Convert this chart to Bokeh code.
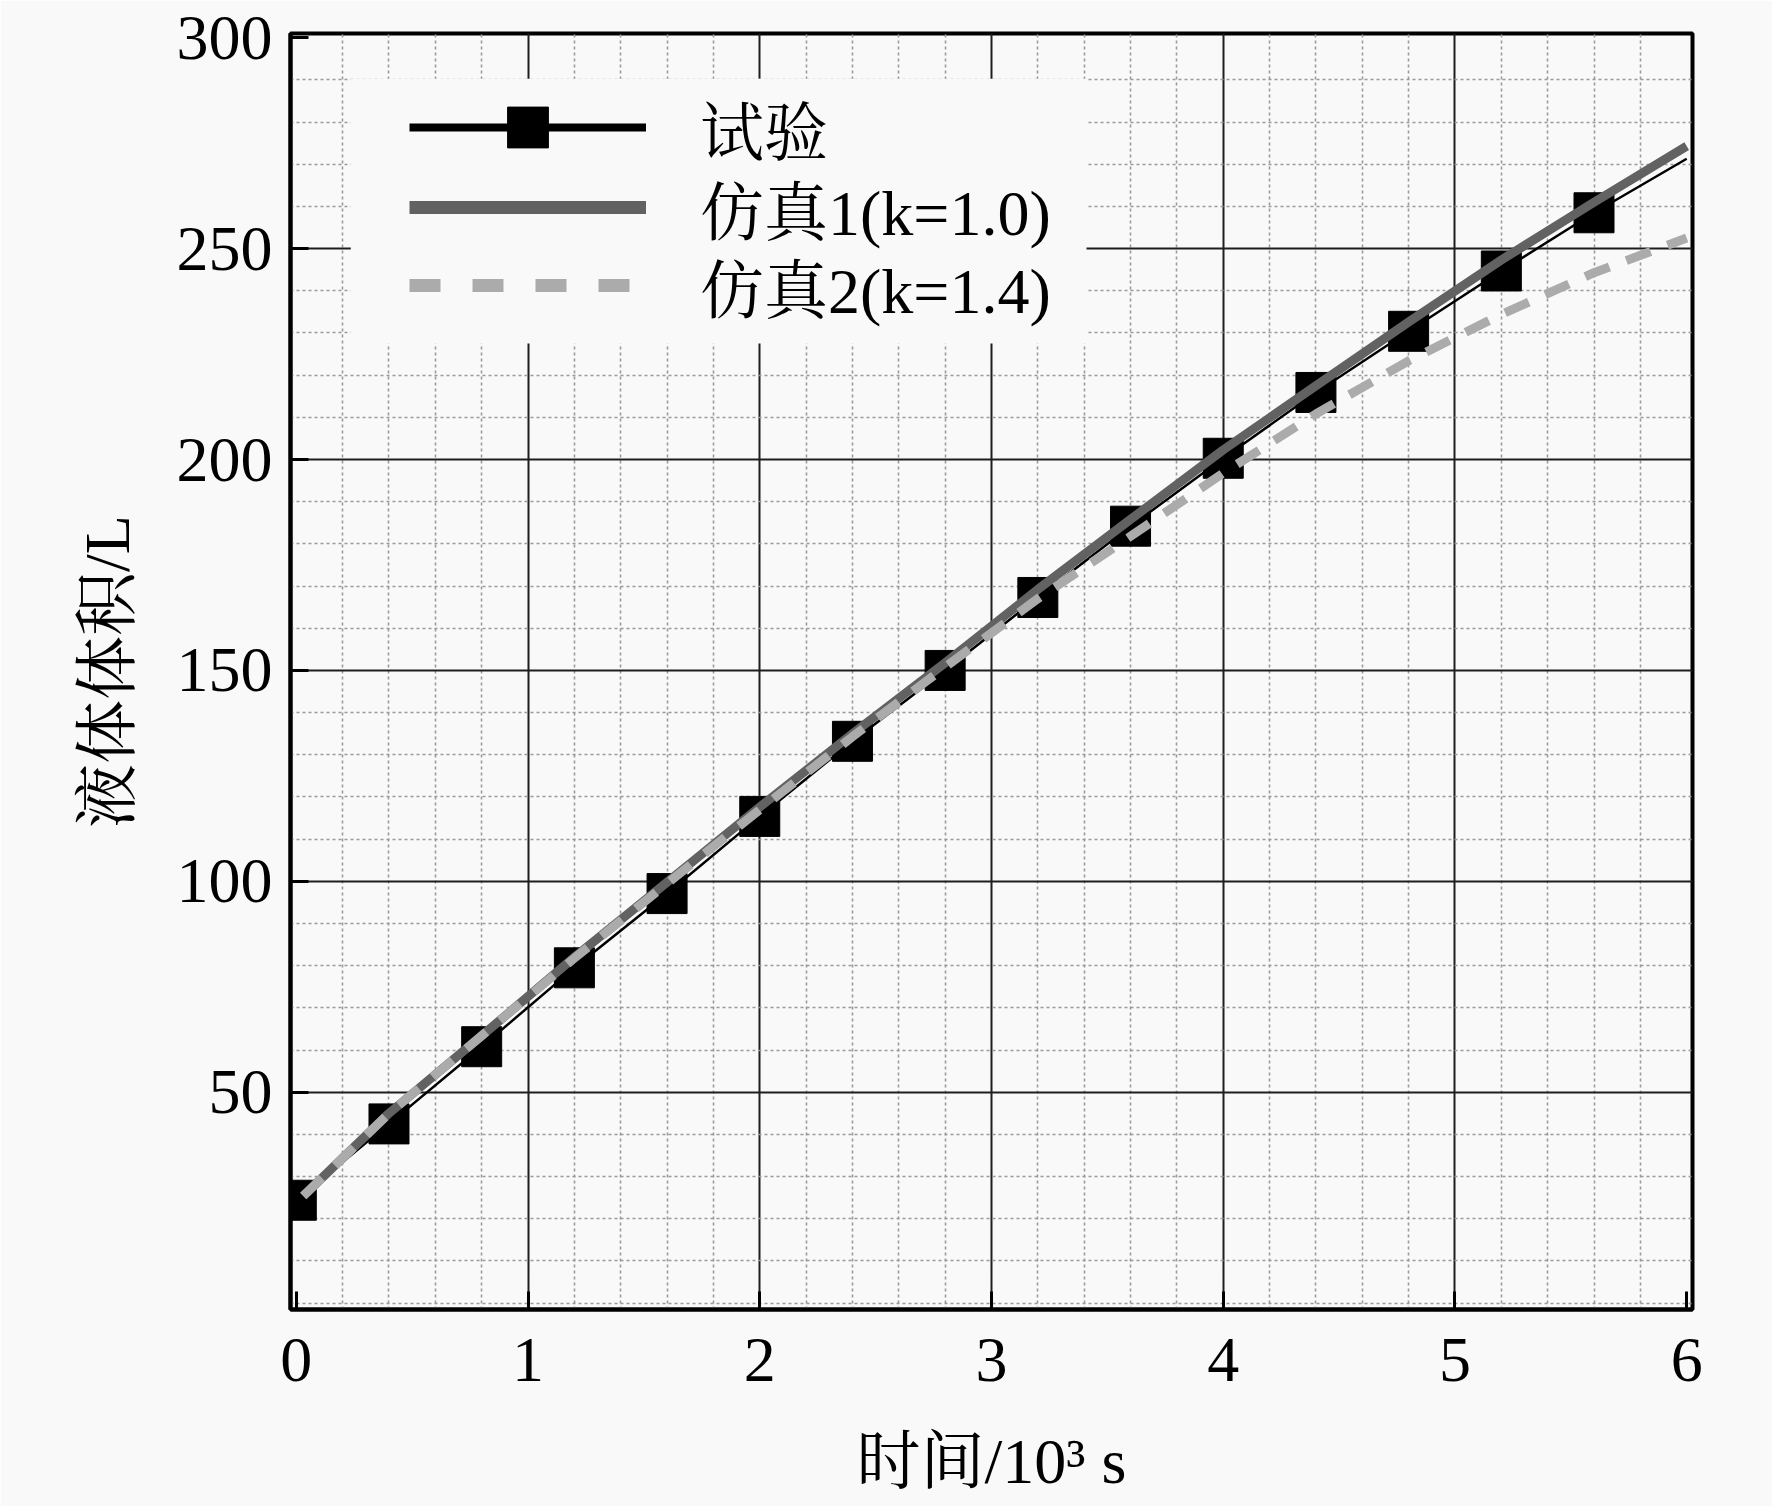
from bokeh.plotting import figure
from bokeh.models import (Range1d, FixedTicker, Legend, LegendItem, ColumnDataSource,
                          BoxAnnotation)
from bokeh.embed import file_html
from bokeh.resources import INLINE

# ---------------- data ----------------
exp_t = [0.0, 0.4, 0.8, 1.2, 1.6, 2.0, 2.4, 2.8, 3.2, 3.6, 4.0, 4.4, 4.8, 5.2, 5.6]
exp_v = [24.4, 42.5, 60.8, 79.5, 97.1, 115.4, 133.2, 150.0, 167.3, 184.2,
         200.3, 215.9, 230.4, 244.7, 258.5]
exp_line_t = [0.0, 0.4, 0.8, 1.2, 1.6, 2.0, 2.4, 2.8, 3.2, 3.6, 4.0, 4.4, 4.8, 5.2, 5.6, 6.0]
exp_line_v = [24.4, 42.5, 60.8, 79.5, 97.1, 115.4, 133.2, 150.0, 167.3, 184.2,
              200.3, 215.9, 230.4, 244.7, 258.5, 271.3]

sim_t = [0.03, 0.4, 0.8, 1.2, 1.6, 2.0, 2.4, 2.8, 3.2, 3.6, 4.0, 4.4, 4.8, 5.2, 5.6, 6.0]
sim1_v = [25.4, 45.0, 63.4, 82.0, 99.8, 117.6, 135.0, 151.8, 169.2, 185.8,
          202.3, 217.5, 232.6, 247.3, 261.0, 274.3]
sim2_v = [25.4, 45.0, 63.4, 81.8, 99.5, 117.0, 134.3, 150.8, 167.0, 181.8,
          196.8, 210.8, 223.4, 234.4, 244.3, 252.5]

x_tick_vals = [0, 1, 2, 3, 4, 5, 6]
y_tick_vals = [50, 100, 150, 200, 250, 300]
x_grid_major = [1, 2, 3, 4, 5]
y_grid_major = [50, 100, 150, 200, 250]
x_grid_minor = [round(0.2 * i, 1) for i in range(1, 30) if i % 5 != 0]
y_grid_minor = [10 * i for i in range(0, 30) if i % 5 != 0 or i == 0]

labels = ["试验", "仿真1(k=1.0)", "仿真2(k=1.4)"]
x_label = "时间/10³ s"
y_label = "液体体积/L"

# ---------------- styling ----------------
FONT = "'Liberation Serif', 'Noto Serif CJK SC', 'Noto Sans CJK SC'"
BG = "#f9f9f9"
SIM1_COLOR = "#626262"
SIM2_COLOR = "#ababab"

p = figure(width=1772, height=1506, output_backend="svg", toolbar_location=None,
           x_range=Range1d(-0.025, 6.025), y_range=Range1d(-1.5, 301.0),
           min_border_left=290, min_border_right=80, min_border_top=33,
           min_border_bottom=197)
p.background_fill_color = BG
p.border_fill_color = BG
p.outline_line_color = "black"
p.outline_line_width = 4
p.outline_line_alpha = 1

# axes
p.xaxis.ticker = FixedTicker(ticks=x_tick_vals, minor_ticks=[])
p.yaxis.ticker = FixedTicker(ticks=y_tick_vals, minor_ticks=[])
for ax in (p.xaxis[0], p.yaxis[0]):
    ax.axis_line_color = "black"
    ax.axis_line_width = 4
    ax.major_tick_in = 18
    ax.major_tick_out = 0
    ax.minor_tick_in = 0
    ax.minor_tick_out = 0
    ax.major_tick_line_color = "black"
    ax.major_tick_line_width = 3
    ax.major_label_text_font = FONT
    ax.major_label_text_font_size = "64px"
    ax.major_label_text_color = "black"
    ax.axis_label_text_font = FONT
    ax.axis_label_text_font_size = "64px"
    ax.axis_label_text_font_style = "normal"
    ax.axis_label_text_color = "black"
p.xaxis.axis_label = x_label
p.yaxis.axis_label = y_label
p.xaxis.major_label_standoff = 29
p.yaxis.major_label_standoff = 18
p.xaxis.axis_label_standoff = 42
p.yaxis.axis_label_standoff = 31

# grids
xg = p.xgrid[0]
yg = p.ygrid[0]
xg.ticker = FixedTicker(ticks=x_grid_major, minor_ticks=x_grid_minor)
yg.ticker = FixedTicker(ticks=y_grid_major, minor_ticks=y_grid_minor)
for g in (xg, yg):
    g.grid_line_color = "#1e1e1e"
    g.grid_line_width = 2
    g.grid_line_alpha = 1
    g.minor_grid_line_color = "#9a9a9a"
    g.minor_grid_line_width = 1.6
    g.minor_grid_line_dash = "3 3"

# data renderers
p.scatter(exp_t, exp_v, marker="square", size=40, fill_color="black",
          line_color="black")
p.line(exp_line_t, exp_line_v, line_color="black", line_width=2.5,
       line_join="round")
p.line(sim_t, sim1_v, line_color=SIM1_COLOR, line_width=9, line_join="round")
p.line(sim_t, sim2_v, line_color=SIM2_COLOR, line_width=9, line_dash="26 18",
       line_join="round")

# plain background panel behind the legend (hides the grid there)
legend_bg = BoxAnnotation(left=0.235, right=3.41, bottom=227.5, top=290.3,
                          fill_color=BG, fill_alpha=1.0, line_alpha=0)
p.add_layout(legend_bg)

# legend-only renderers (nothing visible in the plot area)
nan = float("nan")
dummy = ColumnDataSource(data=dict(x=[nan], y=[nan]))
lg_exp_line = p.line("x", "y", source=dummy, line_color="black", line_width=8)
lg_exp_mark = p.scatter("x", "y", source=dummy, marker="square", size=41,
                        fill_color="black", line_color="black")
lg_sim1 = p.line("x", "y", source=dummy, line_color=SIM1_COLOR, line_width=13)
lg_sim2 = p.line("x", "y", source=dummy, line_color=SIM2_COLOR, line_width=13,
                 line_dash="31 32")

common = dict(glyph_width=237, glyph_height=102, spacing=0, padding=0,
              label_standoff=54, label_text_font=FONT, label_text_font_size="64px",
              label_text_color="black", background_fill_alpha=0.0,
              border_line_alpha=0, margin=0)

legend1 = Legend(items=[LegendItem(label=labels[0],
                                   renderers=[lg_exp_line, lg_exp_mark])],
                 location=(119, 1131), **common)
legend2 = Legend(items=[LegendItem(label=labels[1], renderers=[lg_sim1])],
                 location=(119, 1051), **common)
legend3 = Legend(items=[LegendItem(label=labels[2], renderers=[lg_sim2])],
                 location=(119, 973), **common)
p.add_layout(legend1)
p.add_layout(legend2)
p.add_layout(legend3)

open("out.html", "w", encoding="utf-8").write(file_html(p, INLINE))
